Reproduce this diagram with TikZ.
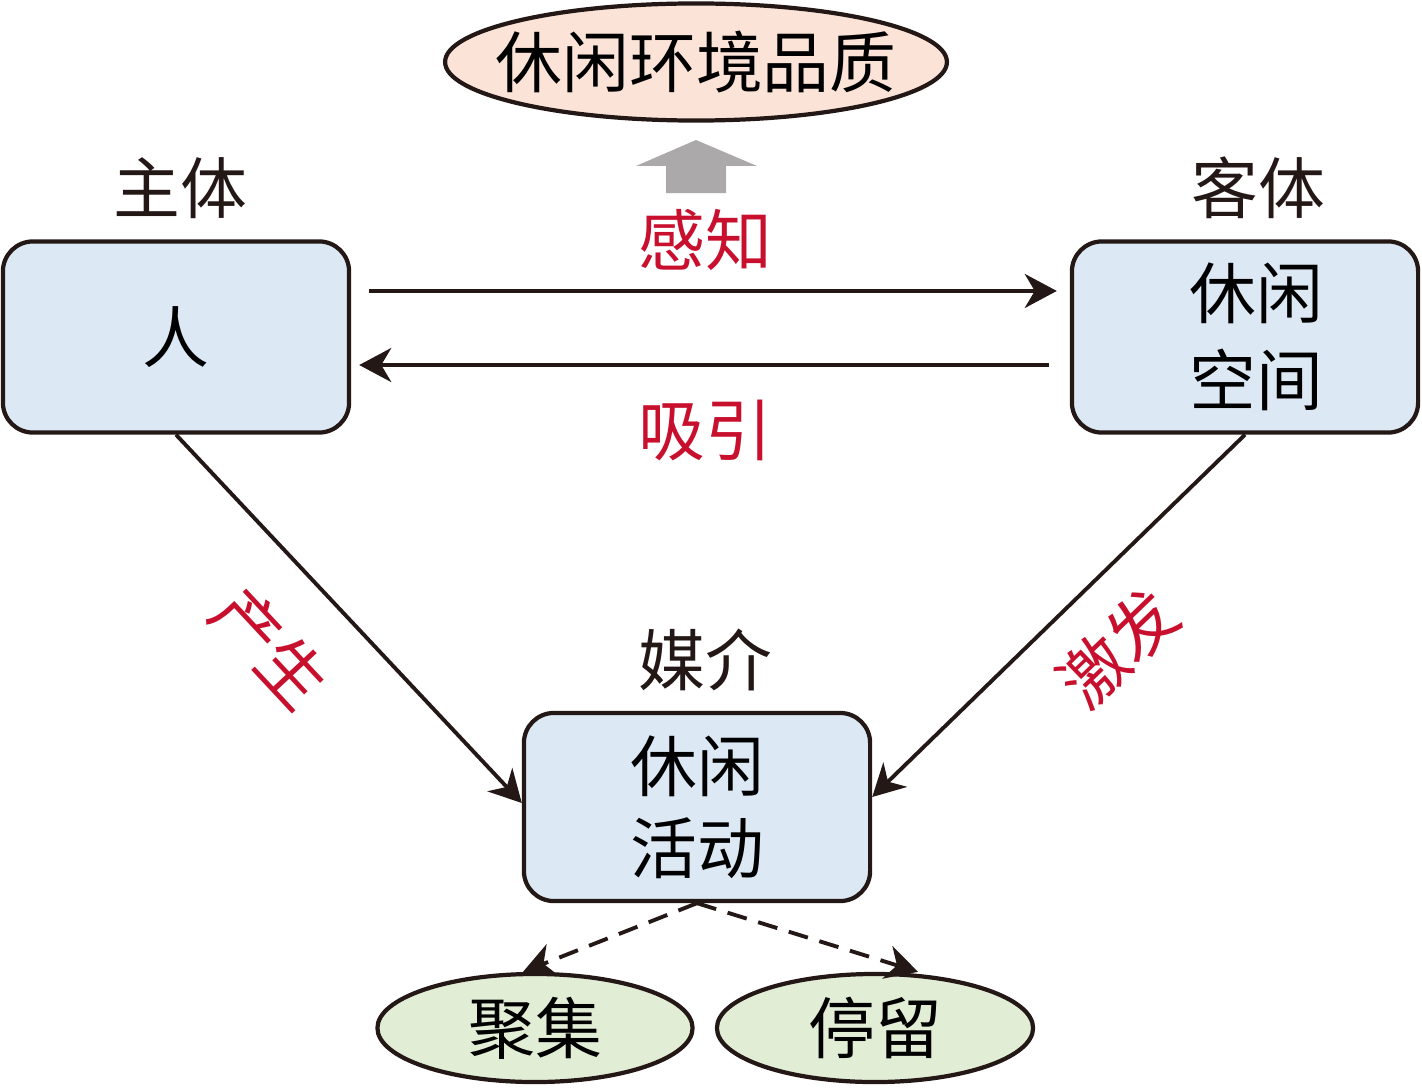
\documentclass[tikz,border=0pt]{standalone}
\usepackage{fontspec}
\setmainfont{Noto Sans CJK SC}
\usepackage{tikz}
\usetikzlibrary{arrows.meta,shapes.geometric}
\definecolor{boxblue}{HTML}{DCE8F4}
\definecolor{peach}{HTML}{FBE4D7}
\definecolor{leaf}{HTML}{E2EDD6}
\definecolor{redlabel}{HTML}{C8102E}
\definecolor{blockgray}{HTML}{ABA9A9}
\definecolor{ink}{HTML}{231815}

\begin{document}
\begin{tikzpicture}[x=0.01cm, y=-0.01cm]
    \tikzset{box/.style = {shape=rectangle, draw=ink, line width=1.2pt, rounded corners=0.3cm, fill=boxblue, minimum width=3.46cm, minimum height=1.91cm, align=center, font=\fontsize{19}{24}\selectfont}}
    \tikzset{oval/.style = {shape=ellipse, draw=ink, line width=1.2pt, inner sep=0pt, font=\fontsize{19}{24}\selectfont}}
    \tikzset{title/.style = {text=ink, font=\fontsize{19}{24}\selectfont}}
    \tikzset{redtext/.style = {text=redlabel, font=\fontsize{19}{24}\selectfont}}
    \tikzset{arr/.style = {draw=ink, line width=1.1pt, -{Stealth[length=0.32cm, width=0.34cm, inset=0.1cm]}}}
    \useasboundingbox (0,0) rectangle (1422,1088);

    % vertices
    \node[oval, fill=peach, inner xsep=-0.23cm, minimum width=4.98cm, minimum height=1.17cm] (pinzhi) at (696,62) {休闲环境品质};
    \node[box] (ren) at (176,337) {人};
    \node[box] (kongjian) at (1245,337) {\hspace*{0.22cm}休闲\\[0.02cm]\hspace*{0.22cm}空间};
    \node[box, minimum height=1.88cm] (huodong) at (697,807) {休闲\\[-0.02cm]活动};
    \node[oval, fill=leaf, minimum width=3.15cm, minimum height=1.08cm] (juji) at (535,1028) {聚集};
    \node[oval, fill=leaf, minimum width=3.16cm, minimum height=1.08cm] (tingliu) at (875,1028) {停留};

    % labels
    \node[title] (zhuti) at (180,188) {主体};
    \node[title] (keti) at (1258,188) {客体};
    \node[title] (meijie) at (705,660) {媒介};
    \node[redtext] (ganzhi) at (705,240) {感知};
    \node[redtext] (xiyin) at (705,430) {吸引};
    \node[redtext, rotate=-47] (chansheng) at (270,648) {产生};
    \node[redtext, rotate=44] (jifa) at (1118,648) {激发};

    % block arrow
    \fill[blockgray] (666,193) -- (666,166) -- (636,166) -- (696,140) -- (757,166) -- (726,166) -- (726,193) -- cycle;

    % edges
    \draw[arr, shorten <=0.18cm, shorten >=0.13cm] ([yshift=0.46cm]ren.east) -- ([yshift=0.46cm]kongjian.west);
    \draw[arr, shorten <=0.21cm, shorten >=0.08cm] ([yshift=-0.28cm]kongjian.west) -- ([yshift=-0.28cm]ren.east);
    \draw[arr] (ren.south) -- ([yshift=0.04cm]huodong.west);
    \draw[arr] (kongjian.south) -- ([yshift=0.1cm]huodong.east);
    \draw[arr, dashed, dash pattern=on 0.2cm off 0.12cm] (huodong.south) -- ([xshift=-0.12cm]juji.north);
    \draw[arr, dashed, dash pattern=on 0.2cm off 0.12cm] (huodong.south) -- ([xshift=0.43cm]tingliu.north);
\end{tikzpicture}
\end{document}
